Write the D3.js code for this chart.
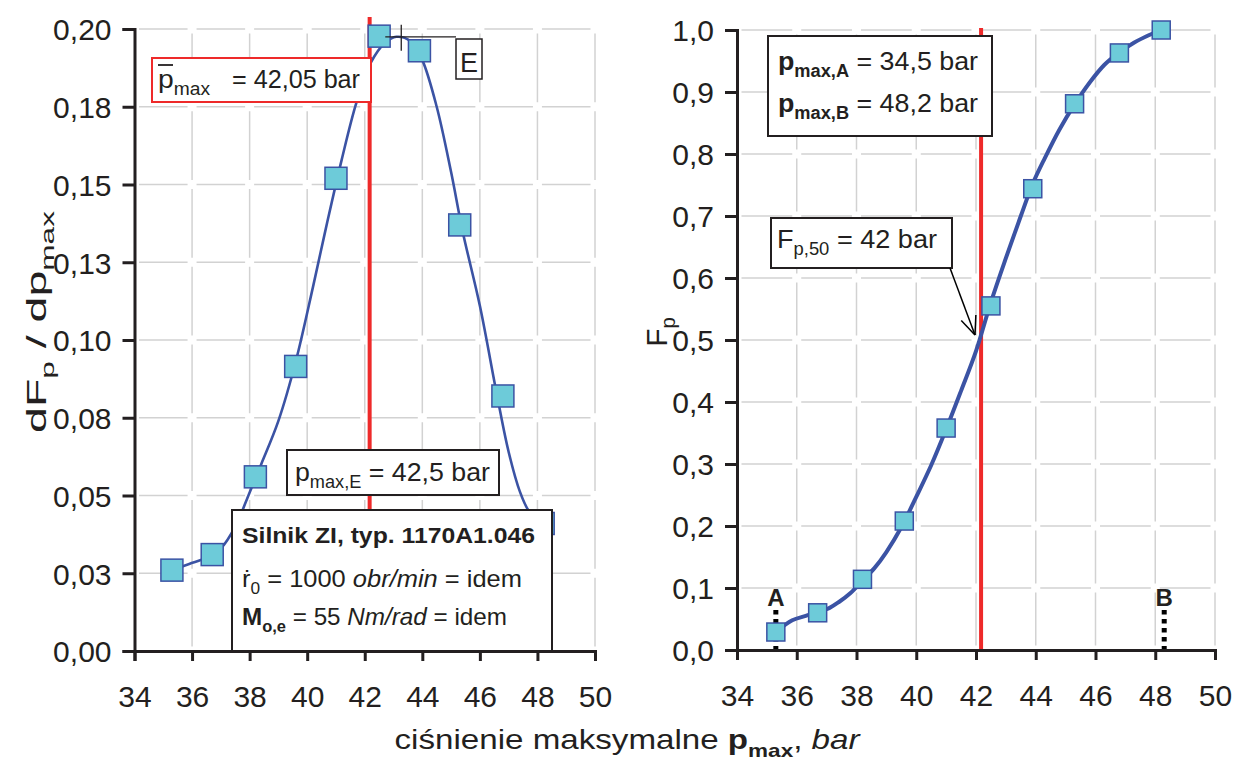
<!DOCTYPE html>
<html>
<head>
<meta charset="utf-8">
<script src="https://cdn.jsdelivr.net/npm/d3@7"></script>
<style>
  body { margin: 0; background: #fff; }
  svg text { font-family: "Liberation Sans", Arial, sans-serif; fill: #231f20; }
</style>
</head>
<body>
<svg id="chart" width="1235" height="760"></svg>
<script>
// class mid points (bar)
var classMid = [35.3, 36.7, 38.2, 39.6, 41.0, 42.5, 43.9, 45.3, 46.8, 48.2];
// dF/dp values
var densityVals = [0.026, 0.031, 0.056, 0.0915, 0.152, 0.1977, 0.193, 0.137, 0.082, 0.041];
// cumulative F values from the right chart
var cumulativeVals = [0.029, 0.060, 0.114, 0.208, 0.358, 0.555, 0.744, 0.881, 0.963, 1.0];

// fitted curves
var densityCurveX = [35.3, 35.9, 36.5, 37.0, 37.5, 38.0, 38.4, 39.0, 39.6, 40.2, 40.7, 41.2, 41.7, 42.2, 42.7, 43.1, 43.6, 44.0, 44.5, 45.0, 45.4, 46.0, 46.6, 47.0, 47.4, 47.7, 48.2];
var densityCurveY = [0.026, 0.028, 0.030, 0.033, 0.040, 0.051, 0.060, 0.074, 0.093, 0.117, 0.138, 0.158, 0.176, 0.189, 0.1955, 0.1975, 0.196, 0.190, 0.175, 0.154, 0.135, 0.111, 0.082, 0.064, 0.051, 0.045, 0.040];
var cdfCurveX = [35.3, 35.85, 36.3, 36.7, 37.1, 37.4, 37.8, 38.2, 38.6, 39.0, 39.5, 40.0, 40.5, 41.0, 41.5, 42.0, 42.5, 43.0, 43.5, 43.9, 44.3, 44.8, 45.3, 45.8, 46.3, 46.8, 47.3, 47.8, 48.2];
var cdfCurveY = [0.029, 0.048, 0.055, 0.061, 0.068, 0.077, 0.092, 0.112, 0.132, 0.158, 0.198, 0.247, 0.298, 0.356, 0.418, 0.482, 0.561, 0.632, 0.700, 0.752, 0.793, 0.840, 0.880, 0.915, 0.944, 0.964, 0.980, 0.992, 1.0];

var xTicks = [34, 36, 38, 40, 42, 44, 46, 48, 50];
var densityTicks = [0, 0.025, 0.05, 0.075, 0.1, 0.125, 0.15, 0.175, 0.2];
var densityTickLabels = ["0,00", "0,03", "0,05", "0,08", "0,10", "0,13", "0,15", "0,18", "0,20"];
var cdfTicks = [0, 0.1, 0.2, 0.3, 0.4, 0.5, 0.6, 0.7, 0.8, 0.9, 1.0];
var cdfTickLabels = ["0,0", "0,1", "0,2", "0,3", "0,4", "0,5", "0,6", "0,7", "0,8", "0,9", "1,0"];

var meanLine = 42.17;   // red line position
var peakE = [43.06, 0.1975];
var pointA = 35.3, pointB = 48.3;

var svg = d3.select("#chart");

var BLUE = "#3b53a4", FILL = "#6dcbd9", RED = "#ee2a2a", GRID = "#d2d2d2", INK = "#231f20";

// scales
var xL = d3.scaleLinear().domain([34, 50]).range([134.5, 595]);
var yL = d3.scaleLinear().domain([0, 0.2]).range([651, 29]);
var xR = d3.scaleLinear().domain([34, 50]).range([737, 1215]);
var yR = d3.scaleLinear().domain([0, 1]).range([650, 30]);

function grid(g, x, y, yt) {
    var sx = x(36) - x(34), sy = Math.abs(y(yt[1]) - y(yt[0])), gap = 9;
    g.selectAll(".hg").data(yt.slice(1)).enter().append("line")
        .attr("x1", x.range()[0]).attr("x2", x.range()[1])
        .attr("y1", d => y(d)).attr("y2", d => y(d))
        .attr("stroke", GRID).attr("stroke-width", 1.5)
        .attr("stroke-dasharray", (sx - gap) + "," + gap)
        .attr("stroke-dashoffset", sx - gap / 2);
    g.selectAll(".vg").data(xTicks.slice(1)).enter().append("line")
        .attr("x1", d => x(d)).attr("x2", d => x(d))
        .attr("y1", y.range()[0]).attr("y2", y.range()[1])
        .attr("stroke", GRID).attr("stroke-width", 1.5)
        .attr("stroke-dasharray", (sy - gap) + "," + gap)
        .attr("stroke-dashoffset", sy - gap / 2);
}

function axes(g, x, y, yt, ylab) {
    var ax = d3.axisBottom(x).tickValues(xTicks).tickSize(10).tickFormat(d3.format("d"));
    var gx = g.append("g").attr("transform", "translate(0," + y.range()[0] + ")").call(ax);
    var ay = d3.axisLeft(y).tickValues(yt).tickSize(12).tickPadding(11).tickFormat((d, i) => ylab[i]);
    var gy = g.append("g").attr("transform", "translate(" + x.range()[0] + ",0)").call(ay);
    [gx, gy].forEach(a => {
        a.select(".domain").attr("stroke", INK).attr("stroke-width", 3);
        a.selectAll(".tick line").attr("stroke", INK).attr("stroke-width", 3);
        a.selectAll(".tick text").style("font-size", "30px").attr("fill", INK)
            .style("font-family", "Liberation Sans, Arial, sans-serif");
    });
    gx.selectAll(".tick text").attr("y", 56).attr("dy", 0);
    gy.selectAll(".tick text").attr("dy", "0.36em");
}

function squares(g, x, y, vals, size) {
    g.selectAll(".sq").data(vals).enter().append("rect")
        .attr("x", (d, i) => x(classMid[i]) - size / 2)
        .attr("y", d => y(d) - size / 2)
        .attr("width", size).attr("height", size)
        .attr("fill", FILL).attr("stroke", BLUE).attr("stroke-width", 1.5);
}

function curve(g, x, y, xs, ys, w) {
    var line = d3.line().x(d => x(d[0])).y(d => y(d[1])).curve(d3.curveCatmullRom);
    g.append("path").datum(xs.map((v, i) => [v, ys[i]]))
        .attr("d", line).attr("fill", "none").attr("stroke", BLUE).attr("stroke-width", w);
}

function box(g, x0, y0, w, h, color, sw) {
    g.append("rect").attr("x", x0).attr("y", y0).attr("width", w).attr("height", h)
        .attr("fill", "#fff").attr("stroke", color).attr("stroke-width", sw);
}

// text helper: parts = [[text, style], ...]; style: s=sub, b=bold, i=italic
function rich(g, x0, y0, parts, size, anchor, len) {
    var t = g.append("text").attr("x", x0).attr("y", y0).style("font-size", size + "px");
    if (anchor) t.attr("text-anchor", anchor);
    var shift = 0;
    parts.forEach(p => {
        var s = p[1] || "";
        var ts = t.append("tspan").text(p[0]);
        var want = s.indexOf("s") >= 0 ? size * 0.28 : 0;
        if (want !== shift) { ts.attr("dy", want - shift); shift = want; }
        if (s.indexOf("s") >= 0) ts.style("font-size", (size * 0.68) + "px");
        if (s.indexOf("b") >= 0) ts.style("font-weight", "bold");
        if (s.indexOf("i") >= 0) ts.style("font-style", "italic");
    });
    if (len) t.attr("textLength", len).attr("lengthAdjust", "spacingAndGlyphs");
    return t;
}

// ---------------- left panel ----------------
var gL = svg.append("g");
grid(gL, xL, yL, densityTicks);
gL.append("line").attr("x1", xL(meanLine)).attr("x2", xL(meanLine))
    .attr("y1", 17).attr("y2", yL(0)).attr("stroke", RED).attr("stroke-width", 4);
curve(gL, xL, yL, densityCurveX, densityCurveY, 2.6);
squares(gL, xL, yL, densityVals, 22);

// peak marker E
gL.append("line").attr("x1", xL(peakE[0]) - 10).attr("x2", 456)
    .attr("y1", yL(peakE[1])).attr("y2", yL(peakE[1])).attr("stroke", INK).attr("stroke-width", 1.3);
gL.append("line").attr("x1", xL(peakE[0]) + 6).attr("x2", xL(peakE[0]) + 6)
    .attr("y1", yL(peakE[1]) - 12).attr("y2", yL(peakE[1]) + 14).attr("stroke", INK).attr("stroke-width", 1.3);
box(gL, 456, 39, 26, 40, INK, 1.5);
rich(gL, 469, 72, [["E"]], 27, "middle");

// mean box
box(gL, 152, 58, 219, 44, RED, 2);
rich(gL, 158, 88, [["p"], ["max", "s"]], 26, null, 52);
rich(gL, 232, 88, [["= 42,05 bar"]], 26, null, 128);
gL.append("line").attr("x1", 158).attr("x2", 173).attr("y1", 65).attr("y2", 65)
    .attr("stroke", INK).attr("stroke-width", 1.8);

// pmax,E box
box(gL, 287, 450, 212, 45, INK, 2);
rich(gL, 295, 481, [["p"], ["max,E", "s"], [" = 42,5 bar"]], 26, null, 195);

// engine box
box(gL, 232, 510, 320, 141, INK, 2);
rich(gL, 242, 543, [["Silnik ZI, typ. 1170A1.046", "b"]], 22, null, 293);
rich(gL, 242, 587, [["ṙ"], ["0", "s"], ["  = 1000 "], ["obr/min", "i"], [" = idem"]], 24, null, 280);
rich(gL, 242, 625, [["M", "b"], ["o,e", "sb"], [" = 55 "], ["Nm/rad", "i"], [" = idem"]], 24, null, 265);

axes(gL, xL, yL, densityTicks, densityTickLabels);

rich(svg.append("g").attr("transform", "translate(46,322) rotate(-90)"), 0, 0,
    [["dF"], ["p", "s"], [" / dp"], ["max", "s"]], 28, "middle", 222);

// ---------------- right panel ----------------
var gR = svg.append("g");
grid(gR, xR, yR, cdfTicks);
gR.append("line").attr("x1", xR(meanLine)).attr("x2", xR(meanLine))
    .attr("y1", 28).attr("y2", yR(0)).attr("stroke", RED).attr("stroke-width", 4);

// A / B markers
[[pointA, "A"], [pointB, "B"]].forEach(p => {
    gR.append("line").attr("x1", xR(p[0])).attr("x2", xR(p[0]))
        .attr("y1", 610).attr("y2", yR(0)).attr("stroke", "#000").attr("stroke-width", 5)
        .attr("stroke-dasharray", "4.5,4.5");
    rich(gR, xR(p[0]), 606, [[p[1], "b"]], 24, "middle");
});

curve(gR, xR, yR, cdfCurveX, cdfCurveY, 4);
squares(gR, xR, yR, cumulativeVals, 18);

// pmax,A / pmax,B box
box(gR, 768, 36, 224, 100, INK, 2);
rich(gR, 778, 70, [["p", "b"], ["max,A", "sb"], [" = 34,5 bar"]], 26, null, 200);
rich(gR, 778, 112, [["p", "b"], ["max,B", "sb"], [" = 48,2 bar"]], 26, null, 200);

// F50 box + arrow
box(gR, 771, 218, 181, 50, INK, 2);
rich(gR, 777, 248, [["F"], ["p,50", "s"], [" = 42 bar"]], 26, null, 160);
var tip = [975, 335], tail = [950, 268];
gR.append("line").attr("x1", tail[0]).attr("y1", tail[1]).attr("x2", tip[0]).attr("y2", tip[1])
    .attr("stroke", "#000").attr("stroke-width", 1.5);
var ang = Math.atan2(tip[1] - tail[1], tip[0] - tail[0]);
[-0.4, 0.4].forEach(a => {
    gR.append("line").attr("x1", tip[0]).attr("y1", tip[1])
        .attr("x2", tip[0] - 20 * Math.cos(ang + a)).attr("y2", tip[1] - 20 * Math.sin(ang + a))
        .attr("stroke", "#000").attr("stroke-width", 1.5);
});

axes(gR, xR, yR, cdfTicks, cdfTickLabels);

rich(svg.append("g").attr("transform", "translate(667,332) rotate(-90)"), 0, 0,
    [["F"], ["p", "s"]], 30, "middle");

// x axis title
rich(svg, 627, 749, [["ciśnienie maksymalne "], ["p", "b"], ["max", "sb"], [", "], ["bar", "i"]], 28, "middle", 465);
</script>
</body>
</html>
